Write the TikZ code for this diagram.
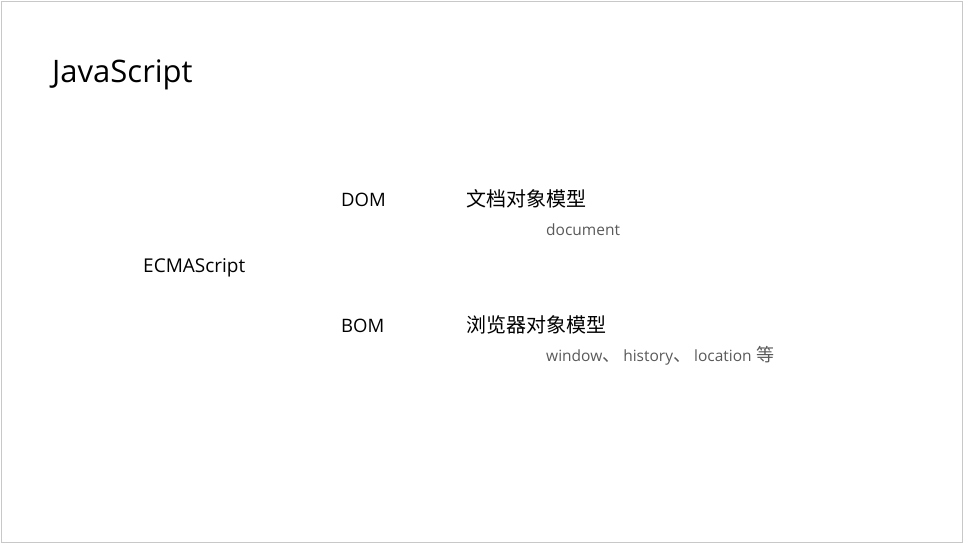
\documentclass[tikz,border=0pt]{standalone}
\usepackage{fontspec}
\setmainfont{Open Sans}
\newfontfamily\cjk{Noto Sans CJK SC}
\definecolor{rahmen}{RGB}{200,200,200}
\definecolor{grau}{RGB}{89,89,89}
\newcommand{\zh}[1]{{\cjk\fontsize{18}{20}\selectfont #1}}
\tikzset{
  txt/.style={anchor=base west,inner sep=0pt,font=\fontsize{18.5}{20}\selectfont},
  cjktxt/.style={anchor=base west,inner sep=0pt,font=\fontsize{20}{22}\selectfont\cjk},
  klein/.style={anchor=base west,inner sep=0pt,text=grau,font=\fontsize{15.5}{17}\selectfont}
}
\begin{document}
\begin{tikzpicture}[x=1pt,y=-1pt]
\useasboundingbox (0,0) rectangle (964,544);
\draw[color=rahmen] (1.5,1.5) rectangle (962.5,542.5);

\node[txt,font=\fontsize{31}{34}\selectfont] (js) at (52,82) {JavaScript};
\node[txt,font=\fontsize{19}{21}\selectfont] (ecma) at (143,272) {ECMAScript};

\node[txt] (dom) at (341,206) {DOM};
\node[cjktxt] (domname) at (466,206) {文档对象模型};
\node[klein] (domobj) at (546,235) {document};

\node[txt] (bom) at (341,332) {BOM};
\node[cjktxt] (bomname) at (466,332) {浏览器对象模型};
\node[klein] (bomobj) at (546,361) {window\zh{、}\hspace{3pt}history\zh{、}\hspace{3pt}location\hspace{1pt} \zh{等}};

\end{tikzpicture}
\end{document}
